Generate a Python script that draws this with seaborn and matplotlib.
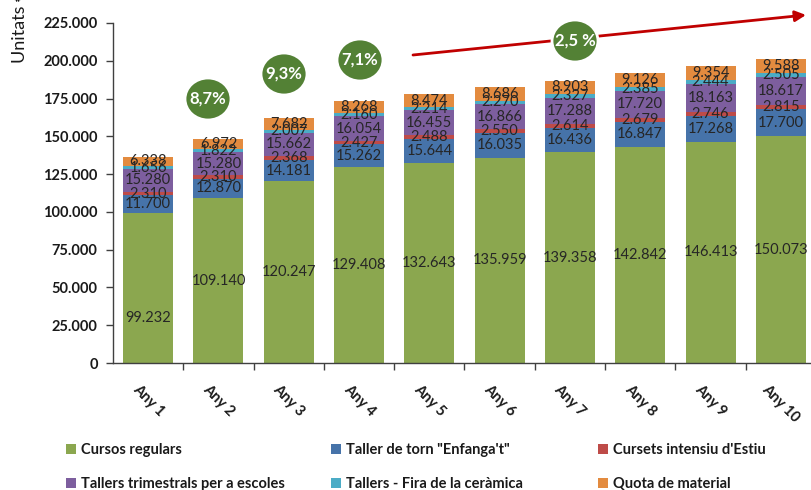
import matplotlib
matplotlib.use("Agg")
import numpy as np
import pandas as pd
import matplotlib.pyplot as plt
import seaborn as sns
from matplotlib.patches import Ellipse, Patch
from matplotlib.ticker import FuncFormatter, FixedLocator

# --- data -------------------------------------------------------------
anys = [f"Any {i}" for i in range(1, 11)]
cursos_regulars = [99232, 109140, 120247, 129408, 132643, 135959, 139358, 142842, 146413, 150073]
taller_torn = [11700, 12870, 14181, 15262, 15644, 16035, 16436, 16847, 17268, 17700]
cursets_estiu = [2310, 2310, 2368, 2427, 2488, 2550, 2614, 2679, 2746, 2815]
tallers_trimestrals = [15280, 15280, 15662, 16054, 16455, 16866, 17288, 17720, 18163, 18617]
tallers_fira = [1656, 1822, 2007, 2160, 2214, 2270, 2327, 2385, 2444, 2505]
quota_material = [6338, 6972, 7682, 8268, 8474, 8686, 8903, 9126, 9354, 9588]

series_names = [
    "Cursos regulars",
    'Taller de torn "Enfanga\'t"',
    "Cursets intensiu d'Estiu",
    "Tallers trimestrals per a escoles",
    "Tallers - Fira de la ceràmica",
    "Quota de material",
]
series_values = [cursos_regulars, taller_torn, cursets_estiu,
                 tallers_trimestrals, tallers_fira, quota_material]
colors = ["#8BA74F", "#4673A9", "#BE4B48", "#7D5E9E", "#4BACC6", "#E38B3F"]

creixement = ["8,7%", "9,3%", "7,1%", "2,5 %"]
y_ticks = [0, 25000, 50000, 75000, 100000, 125000, 150000, 175000, 200000, 225000]

# --- long table with stacked bottoms / tops ----------------------------
rows = []
for name, vals in zip(series_names, series_values):
    for a, v in zip(anys, vals):
        rows.append({"any": a, "serie": name, "valor": v})
df = pd.DataFrame(rows)
df["serie"] = pd.Categorical(df["serie"], categories=series_names, ordered=True)
df["any"] = pd.Categorical(df["any"], categories=anys, ordered=True)
df = df.sort_values(["any", "serie"])
df["top"] = df.groupby("any", observed=True)["valor"].cumsum()
df["bottom"] = df["top"] - df["valor"]

# --- figure -------------------------------------------------------------
W, H = 812, 490
sns.set_theme(style="white")
plt.rcParams["font.family"] = ["Lato", "DejaVu Sans"]
fig = plt.figure(figsize=(W / 100, H / 100), dpi=100)
ax = fig.add_axes([113 / W, 127 / H, 703 / W, 340 / H])

# stacked bars: draw cumulative tops from the highest layer down
for name, col in reversed(list(zip(series_names, colors))):
    sub = df[df["serie"] == name]
    sns.barplot(data=sub, x="any", y="top", order=anys, color=col,
                saturation=1, width=0.71, errorbar=None, ax=ax,
                edgecolor="none", linewidth=0)

# value labels in the middle of each segment
green_pos = [0.30] + [0.5] * 9
for i, a in enumerate(anys):
    sub = df[df["any"] == a]
    for _, r in sub.iterrows():
        frac = green_pos[i] if r["serie"] == series_names[0] else 0.5
        y = r["bottom"] + r["valor"] * frac
        txt = f"{int(r['valor']):,}".replace(",", ".")
        ax.text(i, y, txt, ha="center", va="center", fontsize=10.5,
                color="#262626")

ax.set_xlim(-0.5, 9.5)
ax.set_ylim(0, 225000)
ax.yaxis.set_major_locator(FixedLocator(y_ticks))
ax.yaxis.set_major_formatter(FuncFormatter(lambda v, p: f"{int(v):,}".replace(",", ".")))
ax.set_xlabel("")
ax.set_ylabel("")
for s in ["top", "right"]:
    ax.spines[s].set_visible(False)
for s in ["left", "bottom"]:
    ax.spines[s].set_color("#404040")
    ax.spines[s].set_linewidth(1)
ax.tick_params(axis="y", which="major", direction="out", length=5, width=1,
               color="#404040", labelsize=10.5, pad=6, left=True)
ax.tick_params(axis="x", which="major", length=0, pad=14, labelsize=10.5)
ax.xaxis.set_minor_locator(FixedLocator(np.arange(0.5, 9.6, 1.0)))
ax.tick_params(axis="x", which="minor", direction="out", length=5, width=1,
               color="#404040", bottom=True)
for lab in ax.get_yticklabels():
    lab.set_fontweight("bold")
    lab.set_color("#1a1a1a")
for lab in ax.get_xticklabels():
    lab.set_fontweight("bold")
    lab.set_color("#1a1a1a")
    lab.set_rotation(-45)
    lab.set_ha("center")
    lab.set_va("top")

# --- overlay in pixel coordinates for annotations ------------------------
ov = fig.add_axes([0, 0, 1, 1], zorder=5)
ov.set_xlim(0, W)
ov.set_ylim(H, 0)
ov.axis("off")
ov.patch.set_alpha(0)

ov.annotate("", xy=(806, 15), xytext=(413, 55),
            arrowprops=dict(arrowstyle="-|>", color="#C00000", lw=2,
                            mutation_scale=16, shrinkA=0, shrinkB=0))

bubbles = [(208, 99), (284, 74), (360, 60), (575, 41)]
for (cx, cy), t in zip(bubbles, creixement):
    ov.add_patch(Ellipse((cx, cy), 46, 42, facecolor="#538135",
                         edgecolor="white", lw=2, zorder=6))
    ov.text(cx, cy, t, ha="center", va="center", color="white",
            fontsize=12, fontweight="bold", zorder=7)

ov.text(20, 63, "Unitats €", rotation=90, rotation_mode="anchor",
        ha="left", va="center", fontsize=13, color="#1a1a1a")
ov.text(415, -2.5, "perspectiva 10 anys", ha="center", va="baseline",
        fontsize=14, fontweight="bold", color="#2F5597")

# --- legend, three columns ------------------------------------------------
cols = [(0, 3, 66), (1, 4, 331), (2, 5, 598)]
for i1, i2, xpx in cols:
    handles = [Patch(facecolor=colors[i], edgecolor="none") for i in (i1, i2)]
    labels = [series_names[i1], series_names[i2]]
    leg = fig.legend(handles, labels, loc="center left",
                     bbox_to_anchor=(xpx / W, 1 - 467 / H),
                     frameon=False, fontsize=10.5, handlelength=0.7,
                     handleheight=0.7, handletextpad=0.3, labelspacing=1.4,
                     borderpad=0, borderaxespad=0)
    for t in leg.get_texts():
        t.set_fontweight("bold")
        t.set_color("#1a1a1a")

fig.savefig("out.png", dpi=100)
